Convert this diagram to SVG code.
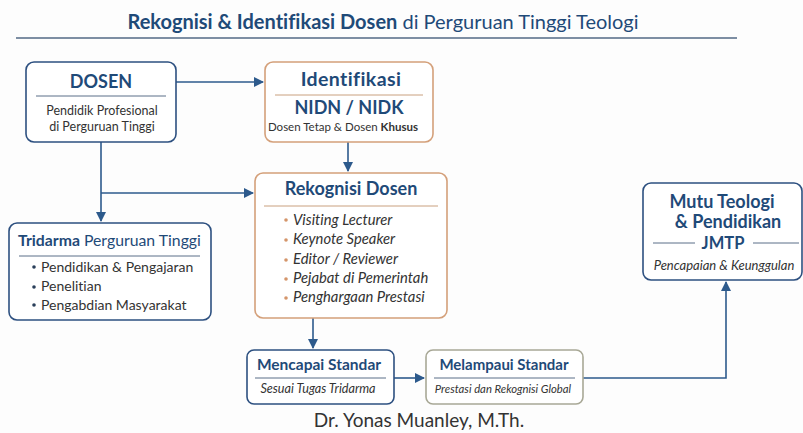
<svg xmlns="http://www.w3.org/2000/svg" width="803" height="433" viewBox="0 0 803 433">
<defs>
<marker id="ah" viewBox="0 0 10 10" refX="9" refY="5" markerWidth="10" markerHeight="10" markerUnits="userSpaceOnUse" orient="auto">
<path d="M0,0 L10,5 L0,10 z" fill="#2d5a8c"/>
</marker>
<style>
text{font-family:Lato,"Open Sans","Liberation Sans",sans-serif;font-variant-ligatures:none}
.bx{fill:#ffffff;stroke:#2d5080;stroke-width:1.6}
.bo{fill:#ffffff;stroke:#d4a07a;stroke-width:1.6}
.bg{fill:#ffffff;stroke:#a8a896;stroke-width:1.6}
.h{fill:#1f4a78;font-weight:700;text-anchor:middle}
.t{fill:#333333}
.c{text-anchor:middle}
.it{font-style:italic}
.dv{stroke:#5a6f88;stroke-width:1}
.dvo{stroke:#c9a07e;stroke-width:1}
.cn{fill:none;stroke:#2d5a8c;stroke-width:1.6}
</style>
</defs>
<rect width="803" height="433" fill="#fdfdfd"/>
<g id="title">
<text x="383" y="29" font-size="20" text-anchor="middle" fill="#1f4a78"><tspan font-weight="700">Rekognisi &amp; Identifikasi Dosen</tspan> di Perguruan Tinggi Teologi</text>
<line x1="16" y1="38" x2="737" y2="38" stroke="#7d8ea3" stroke-width="2"/>
</g>
<g id="connectors">
<line class="cn" x1="176" y1="82" x2="263" y2="82" marker-end="url(#ah)"/>
<line class="cn" x1="348" y1="142" x2="348" y2="171" marker-end="url(#ah)"/>
<line class="cn" x1="101" y1="142" x2="101" y2="221" marker-end="url(#ah)"/>
<line class="cn" x1="101" y1="193" x2="253" y2="193" marker-end="url(#ah)"/>
<line class="cn" x1="313" y1="318" x2="313" y2="348" marker-end="url(#ah)"/>
<line class="cn" x1="394" y1="378" x2="424" y2="378" marker-end="url(#ah)"/>
<polyline class="cn" points="583,378 726,378 726,282" marker-end="url(#ah)"/>
</g>
<g id="dosen">
<rect class="bx" x="26" y="62" width="150" height="80" rx="8"/>
<text class="h" x="101" y="88" font-size="18">DOSEN</text>
<line class="dv" x1="36" y1="96" x2="166" y2="96"/>
<text class="t c" x="102" y="115" font-size="12.5">Pendidik Profesional</text>
<text class="t c" x="102" y="131" font-size="12.5">di Perguruan Tinggi</text>
</g>
<g id="identifikasi">
<rect class="bo" x="265" y="62" width="168" height="80" rx="8"/>
<text class="h" x="351" y="86" font-size="19.5" letter-spacing="0.4">Identifikasi</text>
<line class="dvo" x1="275" y1="95" x2="423" y2="95"/>
<text class="h" x="349" y="114" font-size="18">NIDN / NIDK</text>
<text class="t c" x="343" y="131" font-size="11.5">Dosen Tetap &amp; Dosen <tspan font-weight="700">Khusus</tspan></text>
</g>
<g id="rekognisi">
<rect class="bo" x="255" y="173" width="192" height="145" rx="8"/>
<text class="h" x="351" y="195" font-size="18">Rekognisi Dosen</text>
<line class="dvo" x1="264" y1="206" x2="438" y2="206"/>
<g fill="#d4956a">
<circle cx="286" cy="220" r="1.8"/><circle cx="286" cy="240" r="1.8"/><circle cx="286" cy="260" r="1.8"/><circle cx="286" cy="279" r="1.8"/><circle cx="286" cy="298" r="1.8"/>
</g>
<g class="t it" font-size="14.8" fill="#333333" font-style="italic">
<text x="293" y="225">Visiting Lecturer</text>
<text x="293" y="244">Keynote Speaker</text>
<text x="293" y="264">Editor / Reviewer</text>
<text x="293" y="283">Pejabat di Pemerintah</text>
<text x="293" y="302">Penghargaan Prestasi</text>
</g>
</g>
<g id="tridarma">
<rect class="bx" x="9" y="223" width="202" height="97" rx="8"/>
<text x="18" y="246" font-size="15.8" fill="#1f4a78"><tspan font-weight="700">Tridarma</tspan> Perguruan Tinggi</text>
<line class="dv" x1="19" y1="256" x2="200" y2="256"/>
<g fill="#2a3f5a">
<circle cx="34" cy="267" r="1.8"/><circle cx="34" cy="287" r="1.8"/><circle cx="34" cy="305" r="1.8"/>
</g>
<text class="t" x="41" y="272" font-size="14">Pendidikan &amp; Pengajaran</text>
<text class="t" x="41" y="291" font-size="14">Penelitian</text>
<text class="t" x="41" y="310" font-size="14">Pengabdian Masyarakat</text>
</g>
<g id="mencapai">
<rect class="bx" x="247" y="350" width="147" height="54" rx="7"/>
<text class="h" x="319" y="370" font-size="15.5">Mencapai Standar</text>
<line class="dv" x1="255" y1="378" x2="386" y2="378"/>
<text class="t c it" x="318" y="393" font-size="12.6">Sesuai Tugas Tridarma</text>
</g>
<g id="melampaui">
<rect class="bg" x="426" y="350" width="157" height="54" rx="7"/>
<text class="h" x="504" y="370" font-size="15">Melampaui Standar</text>
<line class="dv" x1="434" y1="378" x2="575" y2="378"/>
<text class="t c it" x="503" y="393" font-size="11.3">Prestasi dan Rekognisi Global</text>
</g>
<g id="mutu">
<rect class="bx" x="643" y="183" width="159" height="97" rx="8"/>
<text class="h" x="722" y="208" font-size="18">Mutu Teologi</text>
<text class="h" x="728" y="228" font-size="18">&amp; Pendidikan</text>
<text class="h" x="723" y="249" font-size="16.5">JMTP</text>
<line class="dv" x1="653" y1="243" x2="695" y2="243"/>
<line class="dv" x1="753" y1="243" x2="799" y2="243"/>
<text class="t c it" x="724" y="270" font-size="13">Pencapaian &amp; Keunggulan</text>
</g>
<g id="footer">
<text x="419" y="427" font-size="19" text-anchor="middle" fill="#333333">Dr. Yonas Muanley, M.Th.</text>
</g>
</svg>
